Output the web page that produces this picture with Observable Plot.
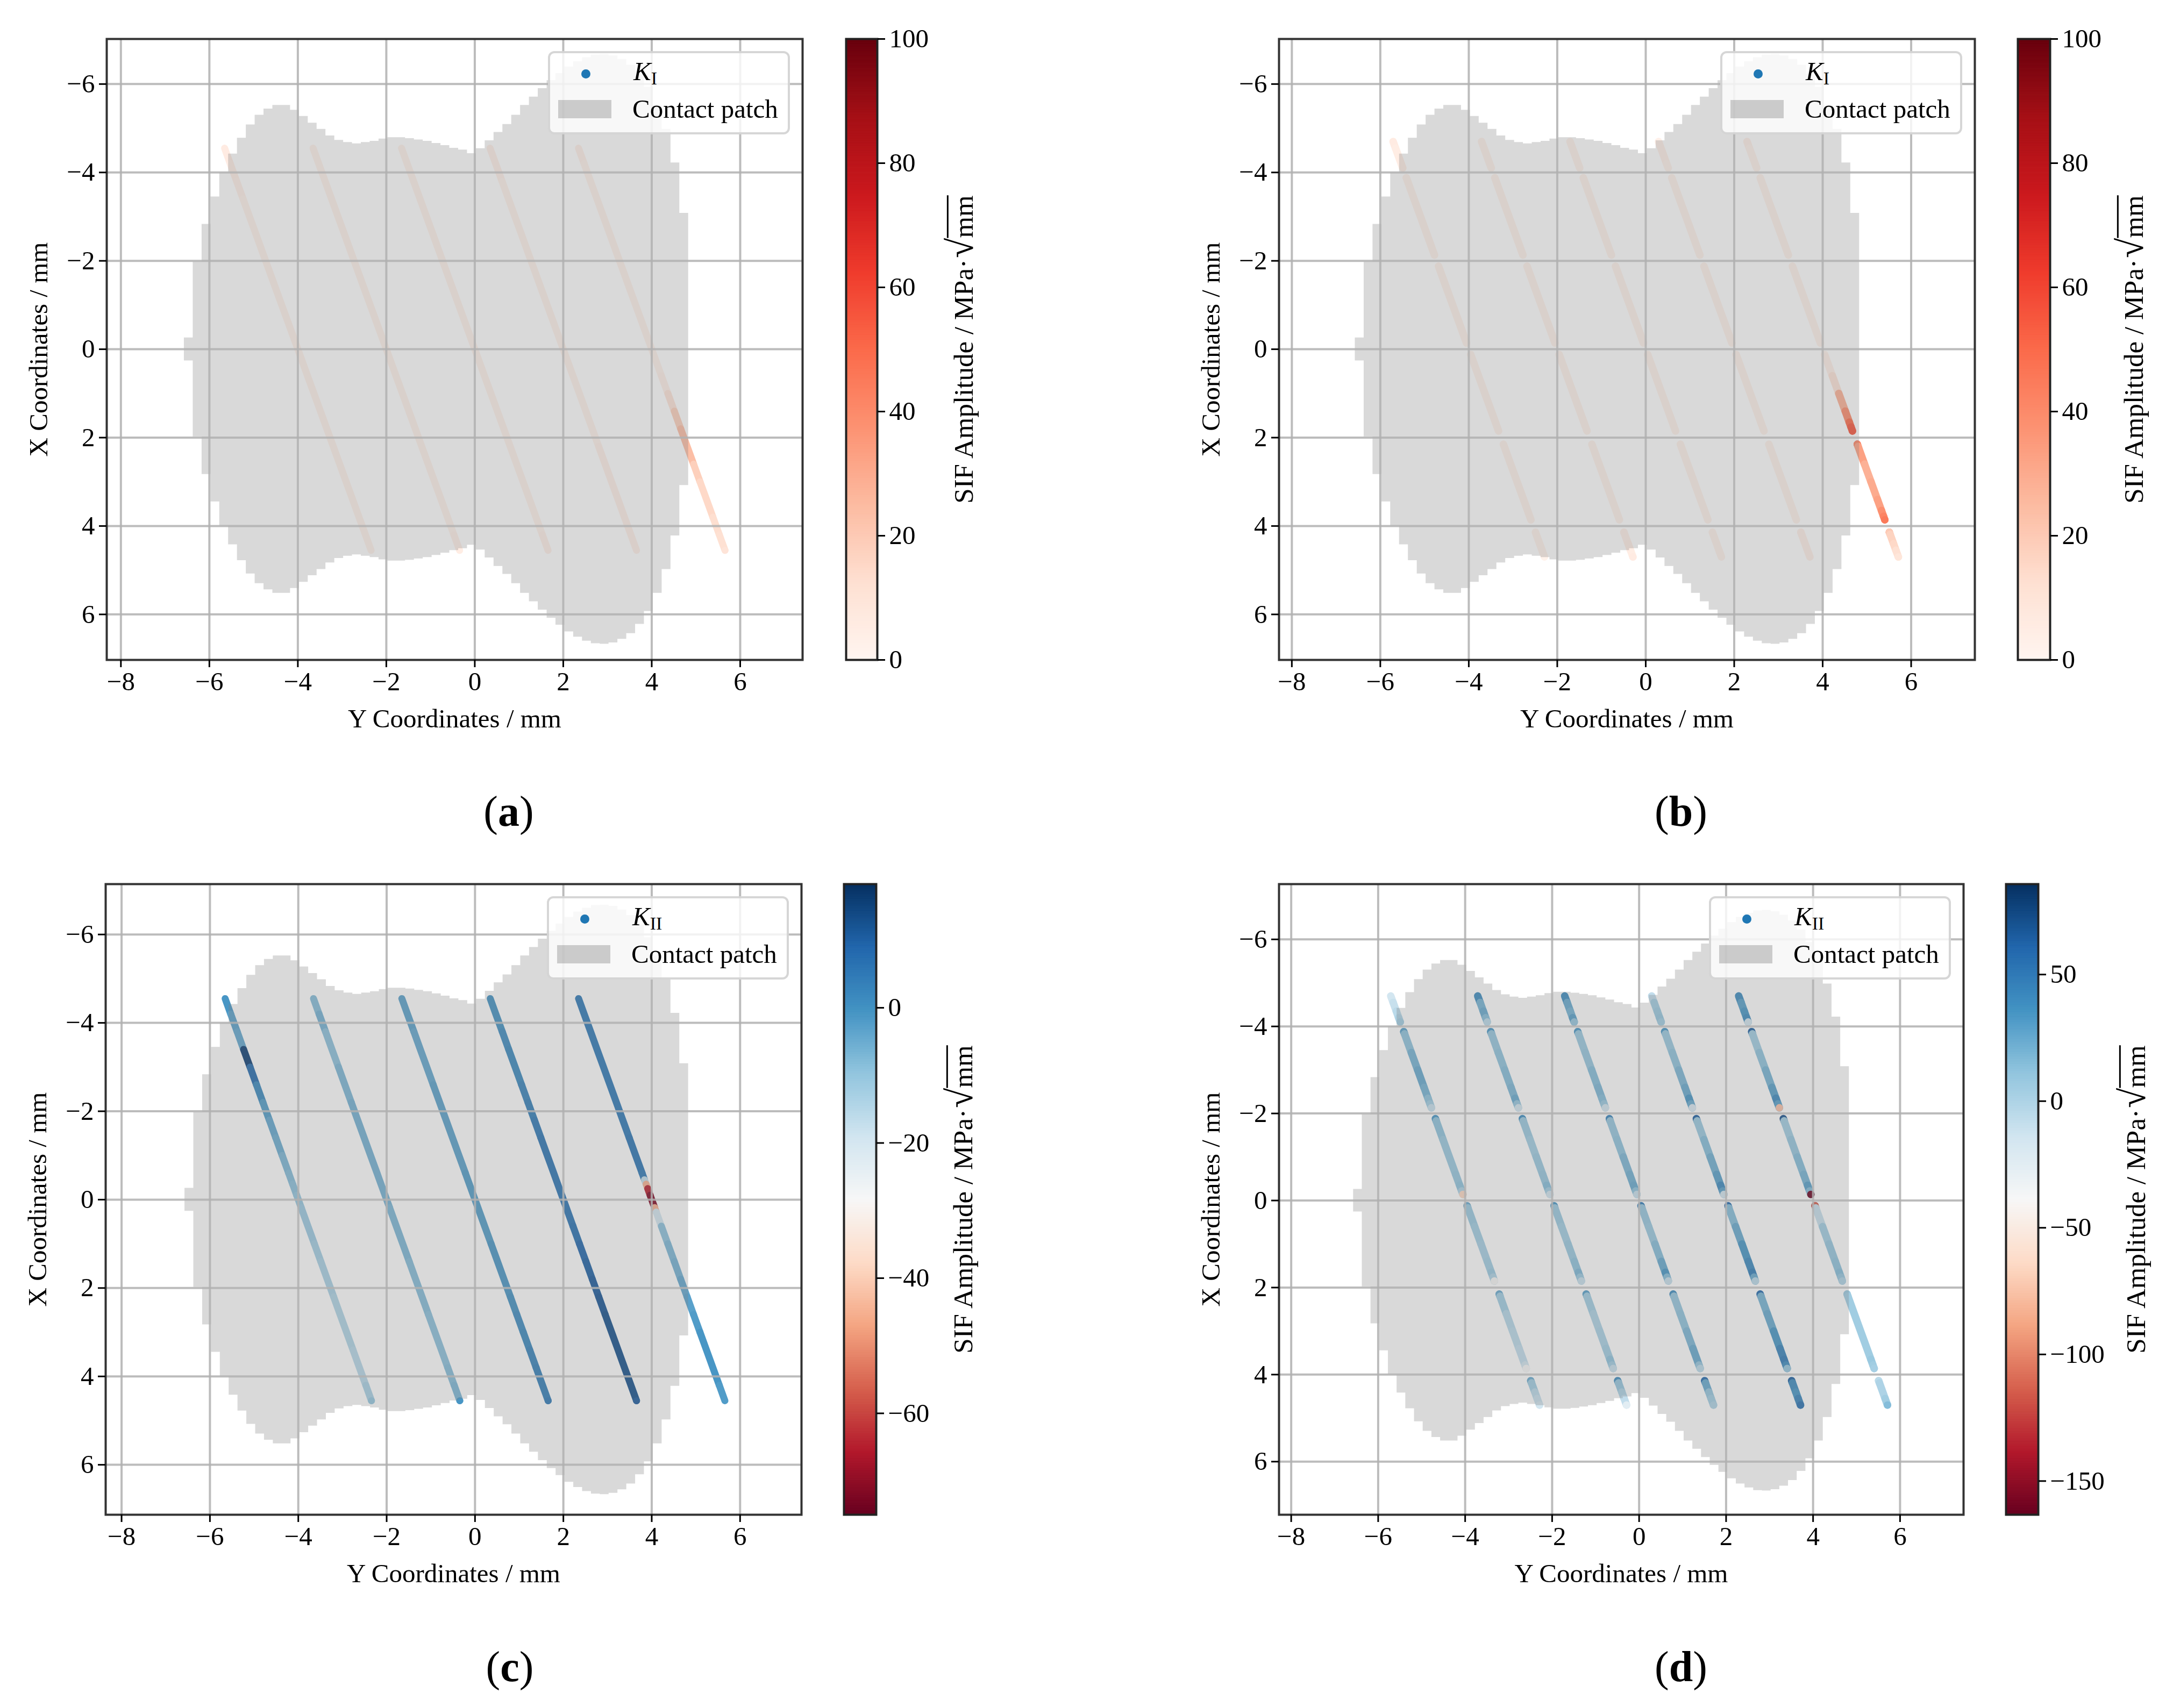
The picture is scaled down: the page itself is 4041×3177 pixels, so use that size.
<!DOCTYPE html>
<html><head><meta charset="utf-8">
<script src="https://cdn.jsdelivr.net/npm/d3@7"></script>
<script src="https://cdn.jsdelivr.net/npm/@observablehq/plot@0.6"></script>
<style>
html,body{margin:0;padding:0;background:#fff}
#page{position:relative;width:4041px;height:3177px;overflow:hidden;font-family:"Liberation Serif",serif;color:#000}
#page svg{position:absolute;background:transparent;overflow:visible}
.legend{position:absolute;width:442px;height:147px;background:rgba(255,255,255,.8);border:4px solid rgba(204,204,204,.8);border-radius:12px;font-size:49px;line-height:1}
.legend .dot{position:absolute;left:58px;top:30px;width:17px;height:17px;border-radius:50%;background:#1f77b4}
.legend .sw{position:absolute;left:15px;top:87px;width:99px;height:34px;background:rgba(128,128,128,.38)}
.legend .t1{position:absolute;left:155px;top:9px;white-space:nowrap}
.legend .t2{position:absolute;left:153px;top:79px;white-space:nowrap}
.legend sub{font-size:34px;line-height:0;vertical-align:-8px}
.cblabel{position:absolute;white-space:nowrap;font-size:51px;transform:translate(-50%,-50%) rotate(-90deg);line-height:1.3}
.cblabel .root{font-size:68px;line-height:0;margin-left:2px}
.cblabel .rad{text-decoration:overline;text-decoration-thickness:3px}
.plabel{position:absolute;font-size:80px;transform:translate(-50%,-50%);line-height:1}
</style></head><body><div id="page"></div>
<script>
// Colour ramps (matplotlib Reds and RdBu)
const redsRamp = ["#fff5f0","#fee0d2","#fcbba1","#fc9272","#fb6a4a","#ef3b2c","#cb181d","#a50f15","#67000d"];
const rdbuRamp = ["#67001f","#b2182b","#d6604d","#f4a582","#fddbc7","#f7f7f7","#d1e5f0","#92c5de","#4393c3","#2166ac","#053061"];

// Contact patch: column edges (Y, mm) and half height (X, mm) of each column
const patchEdges = [-6.57,-6.37,-6.17,-5.97,-5.77,-5.57,-5.37,-5.17,-4.97,-4.77,-4.57,-4.37,-4.17,-3.97,-3.77,-3.57,-3.37,-3.17,-2.97,-2.77,-2.57,-2.37,-2.17,-1.97,-1.77,-1.57,-1.37,-1.17,-0.97,-0.77,-0.57,-0.37,-0.17,0.03,0.23,0.43,0.63,0.83,1.03,1.23,1.43,1.63,1.83,2.03,2.23,2.43,2.63,2.83,3.03,3.23,3.43,3.63,3.83,4.03,4.23,4.43,4.63,4.83];
const patchHalf = [0.26,1.98,2.83,3.45,4.0,4.42,4.78,5.08,5.30,5.44,5.52,5.52,5.41,5.27,5.12,4.98,4.83,4.73,4.68,4.65,4.68,4.71,4.76,4.79,4.79,4.77,4.74,4.71,4.66,4.61,4.55,4.51,4.43,4.54,4.72,4.91,5.09,5.30,5.52,5.71,5.90,6.08,6.24,6.39,6.51,6.60,6.66,6.67,6.64,6.56,6.43,6.22,5.93,5.52,4.98,4.22,3.08];

// Track lines: each crosses X=0 at one of these Y values
const trackCentre = [-4,-2,0,2,4];

// Stations for panels (a) and (c)
const stationsFine = [-4.55,-4.2,-3.8,-3.4,-3.0,-2.6,-2.2,-1.8,-1.4,-1.0,-0.6,-0.45,-0.35,-0.25,-0.1,0.05,0.18,0.28,0.6,1.0,1.4,1.8,2.2,2.6,3.0,3.4,3.8,4.2,4.55];
const shiftFine = [-1.656,-1.529,-1.383,-1.238,-1.092,-0.946,-0.801,-0.655,-0.51,-0.364,-0.218,-0.164,-0.127,-0.091,-0.036,0.018,0.066,0.102,0.218,0.364,0.51,0.655,0.801,0.946,1.092,1.238,1.383,1.529,1.656];

// Stations for panels (b) and (d); null marks a gap in the line
const stationsGap = [-4.7,-4.55,-4.35,-4.2,-4.1,null,
  -3.88,-3.83,-3.4,-3.0,-2.6,-2.35,-2.22,-2.13,null,
  -1.88,-1.83,-1.4,-1.0,-0.6,-0.35,-0.22,-0.14,null,
  0.12,0.17,0.6,1.0,1.4,1.65,1.76,1.85,null,
  2.15,2.2,2.6,3.0,3.4,3.65,3.78,3.86,null,
  4.14,4.19,4.4,4.55,4.7];
const shiftGap = [-1.711,-1.656,-1.583,-1.529,-1.492,null,
  -1.412,-1.394,-1.238,-1.092,-0.946,-0.855,-0.808,-0.775,null,
  -0.684,-0.666,-0.51,-0.364,-0.218,-0.127,-0.08,-0.051,null,
  0.044,0.062,0.218,0.364,0.51,0.601,0.641,0.673,null,
  0.783,0.801,0.946,1.092,1.238,1.329,1.376,1.405,null,
  1.507,1.525,1.602,1.656,1.711];

// Panel (a): KI amplitude
const a1 = [6,4,3,2,2,2,2,2,2,2,2,2,2,2,2,2,2,2,2,2,2,2,2,2,2,2,2,2,2];
const a2 = [2,2,2,2,2,2,2,2,2,2,2,2,2,2,2,2,2,2,2,2,2,2,2,2,2,2,2,3,5];
const a3 = [2,2,2,2,2,2,2,2,2,2,2,2,2,2,2,2,2,2,2,2,2,2,2,2,2,2,2,3,3];
const a4 = [3,3,2,2,2,2,2,2,2,2,2,2,2,2,2,2,2,2,2,2,2,2,3,3,3,3,3,3,3];
const a5 = [3,2,2,2,2,2,2,2,2,2,2,2,2,2,2,2,2,2,3,10,18,24,24,18,15,15,13,12,10];

// Panel (b): KI amplitude
const b1 = [6,5,5,4,4,null, 2,2,2,2,2,2,2,2,null, 2,2,2,2,2,2,2,2,null, 2,2,2,2,2,2,2,2,null, 2,2,2,2,2,2,2,2,null, 2,2,2,2,2];
const b2 = [2,2,2,2,2,null, 2,2,2,2,2,2,2,2,null, 2,2,2,2,2,2,2,2,null, 2,2,2,2,2,2,2,2,null, 2,2,2,2,2,2,2,2,null, 3,3,4,5,6];
const b3 = [2,2,2,2,2,null, 2,2,2,2,2,2,2,2,null, 2,2,2,2,2,2,2,2,null, 2,2,2,2,2,2,2,2,null, 2,2,2,2,2,2,2,2,null, 2,2,2,2,2];
const b4 = [3,3,3,2,2,null, 2,2,2,2,2,2,2,2,null, 2,2,2,2,2,2,2,2,null, 2,2,2,2,2,2,2,2,null, 2,2,2,2,2,2,2,2,null, 3,3,3,3,3];
const b5 = [3,2,2,2,2,null, 2,2,2,2,2,2,2,2,null, 2,2,2,2,2,2,2,2,null, 2,3,10,28,40,50,55,56,null, 42,33,28,30,33,38,42,45,null, 20,17,15,12,9];

// Panel (c): KII amplitude
const c1 = [-1,-3,-4,16,8,2,-2,-4,-5,-7,-8,-8,-9,-9,-10,-10,-11,-11,-11,-12,-13,-13,-14,-14,-14,-15,-15,-13,-10];
const c2 = [-8,-6,-9,-9,-7,-7,-6,-6,-6,-6,-6,-6,-6,-6,-6,-6,-7,-7,-7,-7,-8,-8,-8,-9,-9,-9,-8,-7,-1];
const c3 = [-3,-3,-4,-4,-4,-3,-3,-3,-3,-3,-2,-2,-2,-2,-2,-2,-2,-2,-2,-1,-1,-1,0,1,2,3,4,4,5];
const c4 = [0,0,1,2,2,3,4,5,6,6,6,6,6,6,6,6,6,6,7,9,10,11,12,13,13,13,13,13,11];
const c5 = [5,5,5,5,5,5,5,5,6,6,5,-17,-45,-65,-72,-72,-45,-20,-9,-7,-6,-4,-3,-2,-1,-1,-1,-2,-2];

// Panel (d): KII amplitude
const d1 = [-15,-10,-5,0,5,null, 30,12,20,25,20,12,5,-10,null, 35,12,8,8,10,12,0,-65,null, 25,8,5,3,5,8,0,-40,null, 25,5,-3,-5,-8,-8,-15,-38,null, 25,5,-5,-10,-15];
const d2 = [40,20,25,15,-5,null, 35,10,12,15,18,25,10,-15,null, 40,8,5,8,10,15,5,-15,null, 35,8,5,8,12,18,8,-10,null, 30,5,0,2,5,12,5,-10,null, 40,10,0,-8,-25];
const d3 = [40,25,20,30,10,null, 35,8,10,15,18,15,8,-15,null, 45,10,12,18,22,25,12,-10,null, 50,10,8,15,25,35,15,-10,null, 40,10,12,18,25,25,10,-5,null, 60,25,10,5,0];
const d4 = [-8,5,8,10,5,null, 35,8,12,18,25,35,25,-20,null, 65,8,15,22,30,42,30,-15,null, 60,15,25,35,42,48,25,-5,null, 60,20,25,35,45,50,40,10,null, 65,40,35,45,55];
const d5 = [40,30,35,40,-15,null, 65,5,12,20,30,42,30,-75,null, 70,5,10,15,20,30,15,-163,null, -115,-10,5,10,12,15,10,0,null, 8,5,5,5,5,8,5,3,null, -5,0,0,5,15];

const xTicks = [-8,-6,-4,-2,0,2,4,6];
const yTicks = [-6,-4,-2,0,2,4,6];
const cbTicksK1 = [0,20,40,60,80,100];
const cbTicksC = [0,-20,-40,-60];
const cbTicksD = [50,0,-50,-100,-150];
const minusFmt = v=>String(v).replace("-","\u2212");

const patchRows = patchHalf.flatMap((h,k)=>[{y:patchEdges[k],h},{y:patchEdges[k+1],h}]);

function trackRows(stations, shift, series){
  return series.flatMap((vals,t)=>stations.map((X,i)=>({
    t, X: X==null?NaN:X, Y: shift[i]==null?NaN:trackCentre[t]+shift[i], v: vals[i]==null?NaN:vals[i]
  })));
}

// Colormap lookup: blends between the neighbouring stops of a ramp
function rampFn(ramp){
  const stops = ramp.map(h=>[parseInt(h.slice(1,3),16),parseInt(h.slice(3,5),16),parseInt(h.slice(5,7),16)]);
  return t=>{
    const s=Math.max(0,Math.min(1,t))*(stops.length-1), i=Math.min(stops.length-2,Math.floor(s)), f=s-i;
    const c=stops[i].map((a,j)=>Math.round(a+(stops[i+1][j]-a)*f));
    return `rgb(${c[0]},${c[1]},${c[2]})`;
  };
}

const panels = [
 {tag:"a",sub:"I",L:198,T:72,R:1492,B:1227,xd:[-8.32,7.41],yd:[7.03,-7.02],ramp:redsRamp,cd:[0,100],cb:[1573,1631],cbT:cbTicksK1,cbx:1792,lx:946,ly:1509,lw:13,
  rows:trackRows(stationsFine,shiftFine,[a1,a2,a3,a4,a5])},
 {tag:"b",sub:"I",L:2378,T:72,R:3672,B:1227,xd:[-8.29,7.44],yd:[7.03,-7.02],ramp:redsRamp,cd:[0,100],cb:[3752,3812],cbT:cbTicksK1,cbx:3968,lx:3126,ly:1509,lw:14,
  rows:trackRows(stationsGap,shiftGap,[b1,b2,b3,b4,b5])},
 {tag:"c",sub:"II",L:196,T:1644,R:1490,B:2817,xd:[-8.36,7.39],yd:[7.13,-7.14],ramp:rdbuRamp,cd:[-75,18.3],cb:[1569,1629],cbT:cbTicksC,cbx:1791,lx:948,ly:3100,lw:13,
  rows:trackRows(stationsFine,shiftFine,[c1,c2,c3,c4,c5])},
 {tag:"d",sub:"II",L:2378,T:1644,R:3651,B:2817,xd:[-8.28,7.46],yd:[7.22,-7.27],ramp:rdbuRamp,cd:[-163.3,85.7],cb:[3730,3790],cbT:cbTicksD,cbx:3972,lx:3126,ly:3100,lw:14,
  rows:trackRows(stationsGap,shiftGap,[d1,d2,d3,d4,d5])}
];

const page = document.getElementById("page");
const fontStyle = {fontFamily:"'Liberation Serif',serif",fontSize:"49px",color:"#000",background:"transparent",overflow:"visible"};

function place(node,left,top){node.style.left=left+"px";node.style.top=top+"px";page.appendChild(node);}

for(const p of panels){
  const mL=200,mT=40,mR=40,mB=170;
  const colorOpt = {type:"linear",domain:p.cd,interpolate:rampFn(p.ramp)};
  const chart = Plot.plot({
    width:p.R-p.L+mL+mR,height:p.B-p.T+mT+mB,
    marginLeft:mL,marginRight:mR,marginTop:mT,marginBottom:mB,
    style:fontStyle,
    x:{domain:p.xd},y:{domain:p.yd},color:colorOpt,
    marks:[
      Plot.line(p.rows,{x:"Y",y:"X",z:"t",stroke:"v",strokeWidth:p.lw,strokeLinecap:"round",strokeLinejoin:"round"}),
      Plot.area(patchRows,{x1:"y",x2:"y",y1:d=>d.h,y2:d=>-d.h,fill:"#808080",fillOpacity:0.3}),
      Plot.gridX(xTicks,{stroke:"#b0b0b0",strokeOpacity:0.85,strokeWidth:4}),
      Plot.gridY(yTicks,{stroke:"#b0b0b0",strokeOpacity:0.85,strokeWidth:4}),
      Plot.frame({stroke:"#333",strokeWidth:4}),
      Plot.axisX(xTicks,{anchor:"bottom",tickSize:14,tickPadding:8,strokeWidth:3,tickFormat:minusFmt,label:"Y Coordinates / mm",labelAnchor:"center",labelArrow:"none",labelOffset:125,fontSize:49}),
      Plot.axisY(yTicks,{anchor:"left",tickSize:14,tickPadding:8,strokeWidth:3,tickFormat:minusFmt,label:"X Coordinates / mm",labelAnchor:"center",labelArrow:"none",labelOffset:145,fontSize:49})
    ]
  });
  place(chart,p.L-mL,p.T-mT);

  // Colour bar
  const span=p.cd[1]-p.cd[0];
  const steps = Array.from({length:256},(_,i)=>({
    a:p.cd[0]+span*i/256,
    b:p.cd[0]+span*(i+1)/256,
    v:p.cd[0]+span*(i+.5)/256}));
  const cb = Plot.plot({
    width:p.cb[1]-p.cb[0]+30+150,height:p.B-p.T+80,
    marginLeft:30,marginRight:150,marginTop:40,marginBottom:40,
    style:fontStyle,
    x:{domain:[0,1],axis:null},y:{domain:p.cd},color:colorOpt,
    marks:[
      Plot.rect(steps,{x1:0,x2:1,y1:"a",y2:"b",fill:"v",stroke:"v",strokeWidth:1}),
      Plot.frame({stroke:"#222",strokeWidth:4}),
      Plot.axisY(p.cbT,{anchor:"right",tickSize:14,tickPadding:8,strokeWidth:3,tickFormat:minusFmt,label:null,fontSize:49})
    ]
  });
  place(cb,p.cb[0]-30,p.T-40);

  const lab=document.createElement("div");lab.className="cblabel";
  lab.innerHTML='SIF Amplitude / MPa·<span class="root">√</span><span class="rad">mm</span>';
  lab.style.left=p.cbx+"px";lab.style.top=((p.T+p.B)/2)+"px";page.appendChild(lab);

  const leg=document.createElement("div");leg.className="legend";
  leg.innerHTML='<div class="dot"></div><div class="t1"><i>K</i><sub>'+p.sub+'</sub></div><div class="sw"></div><div class="t2">Contact patch</div>';
  place(leg,p.R-473,p.T+23);

  const pl=document.createElement("div");pl.className="plabel";
  pl.innerHTML='(<b>'+p.tag+'</b>)';
  pl.style.left=p.lx+"px";pl.style.top=p.ly+"px";page.appendChild(pl);
}
</script></body></html>
